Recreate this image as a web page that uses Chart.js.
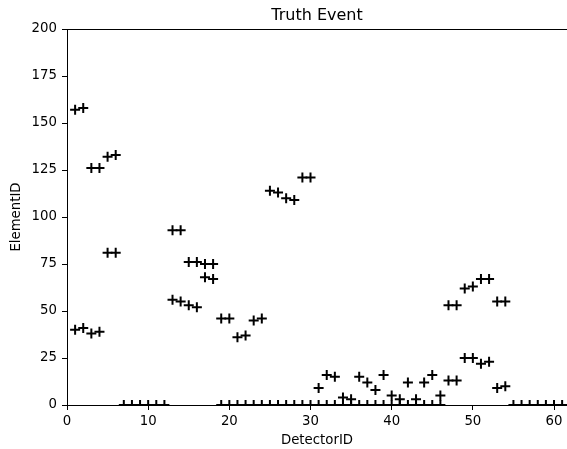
<!DOCTYPE html>
<html>
<head>
<meta charset="utf-8">
<script src="https://cdn.jsdelivr.net/npm/chart.js@4/dist/chart.umd.min.js"></script>
<style>
  html, body { margin: 0; padding: 0; background: #fff; }
  #wrap { width: 567px; height: 449px; }
</style>
</head>
<body>
<div id="wrap"><canvas id="truth"></canvas></div>
<script>
// hits: detector id -> element id
const detectorIDs = [1, 2, 1, 2, 3, 4, 3, 4, 5, 6, 5, 6,
  13, 14, 13, 14, 15, 16, 15, 16, 17, 18, 17, 18,
  19, 20, 21, 22, 23, 24, 25, 26, 27, 28, 29, 30,
  31, 32, 33, 34, 35, 36, 37, 38, 39, 40, 41, 42, 43, 44, 45, 46,
  47, 48, 47, 48, 49, 50, 49, 50, 51, 52, 51, 52, 53, 54, 53, 54];
const elementIDs = [157, 158, 40, 41, 126, 126, 38, 39, 132, 133, 81, 81,
  93, 93, 56, 55, 76, 76, 53, 52, 75, 75, 68, 67,
  46, 46, 36, 37, 45, 46, 114, 113, 110, 109, 121, 121,
  9, 16, 15, 4, 3, 15, 12, 8, 16, 5, 3, 12, 3, 12, 16, 5,
  53, 53, 13, 13, 62, 63, 25, 25, 67, 67, 22, 23, 55, 55, 9, 10];

// detectors sitting on element 0
const zeroDetectors = [7, 8, 9, 10, 11, 12,
  19, 20, 21, 22, 23, 24, 25, 26, 27, 28, 29, 30, 31, 32,
  33, 34, 35, 36, 37, 38, 39, 40, 41, 42, 43, 44, 45, 46,
  55, 56, 57, 58, 59, 60, 61];

const xTicks = [0, 10, 20, 30, 40, 50, 60];
const yTicks = [0, 25, 50, 75, 100, 125, 150, 175, 200];

const points = detectorIDs.map((d, i) => ({x: d, y: elementIDs[i]}))
  .concat(zeroDetectors.map(d => ({x: d, y: 0})));

const FONT = "'DejaVu Sans', sans-serif";

// title + top spine
const frame = {
  id: 'frame',
  afterDraw(chart) {
    const {ctx, chartArea: a} = chart;
    ctx.save();
    ctx.strokeStyle = '#000';
    ctx.lineWidth = 1;
    ctx.beginPath();
    ctx.moveTo(a.left, a.top + 0.5);
    ctx.lineTo(a.right, a.top + 0.5);
    ctx.stroke();
    ctx.fillStyle = '#000';
    ctx.font = '16px ' + FONT;
    ctx.textAlign = 'center';
    ctx.textBaseline = 'middle';
    ctx.fillText('Truth Event', (a.left + a.right) / 2, 16);
    ctx.restore();
  }
};

new Chart(document.getElementById('truth'), {
  type: 'scatter',
  data: {
    datasets: [{
      data: points,
      pointStyle: 'cross',
      pointRadius: 5,
      pointBorderWidth: 2,
      borderColor: '#000',
      backgroundColor: '#000',
      clip: 0
    }]
  },
  options: {
    responsive: true,
    maintainAspectRatio: false,
    animation: false,
    layout: {autoPadding: false, padding: {top: 29, right: 0, left: 0, bottom: 0}},
    plugins: {legend: {display: false}, tooltip: {enabled: false}},
    scales: {
      x: {
        type: 'linear',
        min: 0,
        max: 61.6,
        afterFit: s => { s.height = 44; s.paddingLeft = 0; s.paddingRight = 0; },
        afterBuildTicks: s => { s.ticks = xTicks.map(v => ({value: v})); },
        ticks: {color: '#000', font: {family: FONT, size: 13.3}, padding: 4, maxRotation: 0},
        grid: {drawOnChartArea: false, tickLength: 5, color: '#000'},
        border: {color: '#000', width: 1},
        title: {display: true, text: 'DetectorID', color: '#000',
          font: {family: FONT, size: 13.3}, padding: {top: 0, bottom: 0}}
      },
      y: {
        min: 0,
        max: 200,
        afterFit: s => { s.width = 67; s.paddingTop = 0; s.paddingBottom = 0; },
        afterBuildTicks: s => { s.ticks = yTicks.map(v => ({value: v})); },
        ticks: {color: '#000', font: {family: FONT, size: 13.3}, padding: 5},
        grid: {drawOnChartArea: false, tickLength: 5, color: '#000'},
        border: {color: '#000', width: 1},
        title: {display: true, text: 'ElementID', color: '#000',
          font: {family: FONT, size: 13.3}, padding: {top: 9, bottom: 0}}
      }
    }
  },
  plugins: [frame]
});
</script>
</body>
</html>
